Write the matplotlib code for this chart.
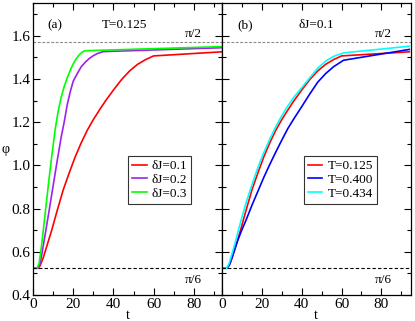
import numpy as np
import matplotlib
matplotlib.use("Agg")
import matplotlib.pyplot as plt
from matplotlib.ticker import MultipleLocator

# (a) T=0.125, different dJ
t_dj1 = [0, 2.5, 3.5, 5, 7, 9.3, 12, 15, 18, 21, 24, 27, 30, 33, 36, 40, 44, 48, 52, 56, 60, 94]
phi_dj1 = [0.524, 0.524, 0.535, 0.57, 0.63, 0.70, 0.79, 0.886, 0.965, 1.04, 1.105, 1.163, 1.212,
           1.256, 1.298, 1.349, 1.397, 1.437, 1.468, 1.49, 1.507, 1.526]
t_dj2 = [0, 2.5, 3.5, 4.5, 5.5, 6.5, 8, 10, 12, 14, 15.5, 17, 18.5, 20, 22, 24, 26, 28, 30, 32, 35, 94]
phi_dj2 = [0.524, 0.524, 0.545, 0.595, 0.65, 0.705, 0.79, 0.905, 1.02, 1.13, 1.20, 1.28, 1.34,
           1.39, 1.425, 1.457, 1.478, 1.495, 1.508, 1.518, 1.527, 1.545]
t_dj3 = [0, 2, 3, 4, 5, 6.5, 8, 9.5, 11, 12.5, 14, 15.5, 17, 18.5, 20, 21.5, 23, 24.5, 25.8, 94]
phi_dj3 = [0.524, 0.524, 0.545, 0.61, 0.69, 0.815, 0.94, 1.055, 1.165, 1.25, 1.315, 1.365, 1.405,
           1.44, 1.47, 1.494, 1.512, 1.525, 1.531, 1.55]

# (b) dJ=0.1, different T
t_T1, phi_T1 = t_dj1, phi_dj1
t_T2 = [0, 2.5, 4, 6, 8, 9.9, 12, 15, 18, 21, 24, 27, 30, 33, 36, 40, 44, 48, 52, 56, 61, 94]
phi_T2 = [0.524, 0.524, 0.545, 0.60, 0.655, 0.70, 0.745, 0.815, 0.88, 0.945, 1.005, 1.062, 1.117,
          1.17, 1.215, 1.272, 1.33, 1.385, 1.425, 1.457, 1.487, 1.537]
t_T3 = [0, 2.3, 3.5, 5, 7, 8.2, 10, 12, 15, 18, 21, 24, 27, 30, 33, 36, 40, 44, 48, 52, 56, 61, 94]
phi_T3 = [0.524, 0.524, 0.545, 0.59, 0.655, 0.70, 0.76, 0.825, 0.91, 0.99, 1.06, 1.122, 1.18,
          1.23, 1.275, 1.315, 1.36, 1.405, 1.45, 1.483, 1.505, 1.521, 1.552]

labels_a = ["δJ=0.1", "δJ=0.2", "δJ=0.3"]
labels_b = ["T=0.125", "T=0.400", "T=0.434"]

plt.rcParams["font.family"] = ["Liberation Serif", "DejaVu Serif"]

fig = plt.figure(figsize=(4.15, 3.21), dpi=100)
ax1 = fig.add_axes([33 / 415, 1 - 295 / 321, 189 / 415, 292 / 321])
ax2 = fig.add_axes([222 / 415, 1 - 295 / 321, 188.5 / 415, 292 / 321])

lw = 1.2
ax1.plot(t_dj1, phi_dj1, color="#ff0000", lw=lw, label=labels_a[0])
ax1.plot(t_dj2, phi_dj2, color="#a020f0", lw=lw, label=labels_a[1])
ax1.plot(t_dj3, phi_dj3, color="#00ff00", lw=lw, label=labels_a[2])

ax2.plot(t_T1, phi_T1, color="#ff0000", lw=lw, label=labels_b[0])
ax2.plot(t_T2, phi_T2, color="#0000ff", lw=lw, label=labels_b[1])
ax2.plot(t_T3, phi_T3, color="#00ffff", lw=lw, label=labels_b[2])

for ax, xmax in ((ax1, 94), (ax2, 94.6)):
    ax.axhline(np.pi / 2, color="#888888", lw=0.8, dashes=(2.5, 1.5))
    ax.axhline(np.pi / 6, color="black", lw=0.8, dashes=(3, 2))
    ax.set_xlim(0, xmax)
    ax.set_ylim(0.4, 1.752)
    ax.xaxis.set_major_locator(MultipleLocator(20))
    ax.xaxis.set_minor_locator(MultipleLocator(10))
    ax.yaxis.set_major_locator(MultipleLocator(0.2))
    ax.yaxis.set_minor_locator(MultipleLocator(0.1))
    ax.tick_params(which="both", direction="in", top=True, right=True,
                   labelsize=11, width=0.8, pad=2)
    ax.tick_params(which="major", length=5)
    ax.tick_params(which="minor", length=3)
    for s in ax.spines.values():
        s.set_linewidth(0.9)
    ax.set_xlabel("t", fontsize=10)
    ax.xaxis.set_label_coords(0.5, -0.048)

ax1.set_ylabel("φ", fontsize=10, rotation=0, ha="center", va="center")
ax1.yaxis.set_label_coords(-0.143, 0.5)
ax2.tick_params(labelleft=False)

ax1.text(0.074, 0.914, "(a)", transform=ax1.transAxes, fontsize=9.5)
ax1.text(0.365, 0.914, "T=0.125", transform=ax1.transAxes, fontsize=9.5)
ax1.text(0.804, 0.884, "π/2", transform=ax1.transAxes, fontsize=9.5)
ax1.text(0.804, 0.04, "π/6", transform=ax1.transAxes, fontsize=9.5)
ax2.text(0.08, 0.914, "(b)", transform=ax2.transAxes, fontsize=9.5)
ax2.text(0.408, 0.914, "δJ=0.1", transform=ax2.transAxes, fontsize=9.5)
ax2.text(0.81, 0.884, "π/2", transform=ax2.transAxes, fontsize=9.5)
ax2.text(0.81, 0.04, "π/6", transform=ax2.transAxes, fontsize=9.5)

leg_kw = dict(loc="upper left", fontsize=9.5, frameon=True, fancybox=False,
              borderaxespad=0, handlelength=1.1, handletextpad=0.4,
              labelspacing=0.1, borderpad=0.3)
l1 = ax1.legend(bbox_to_anchor=(0.503, 0.475), **leg_kw)
l2 = ax2.legend(bbox_to_anchor=(0.435, 0.475), **leg_kw)
for lg in (l1, l2):
    lg.get_frame().set_edgecolor("black")
    lg.get_frame().set_linewidth(0.8)

fig.savefig("out.png", dpi=100)
